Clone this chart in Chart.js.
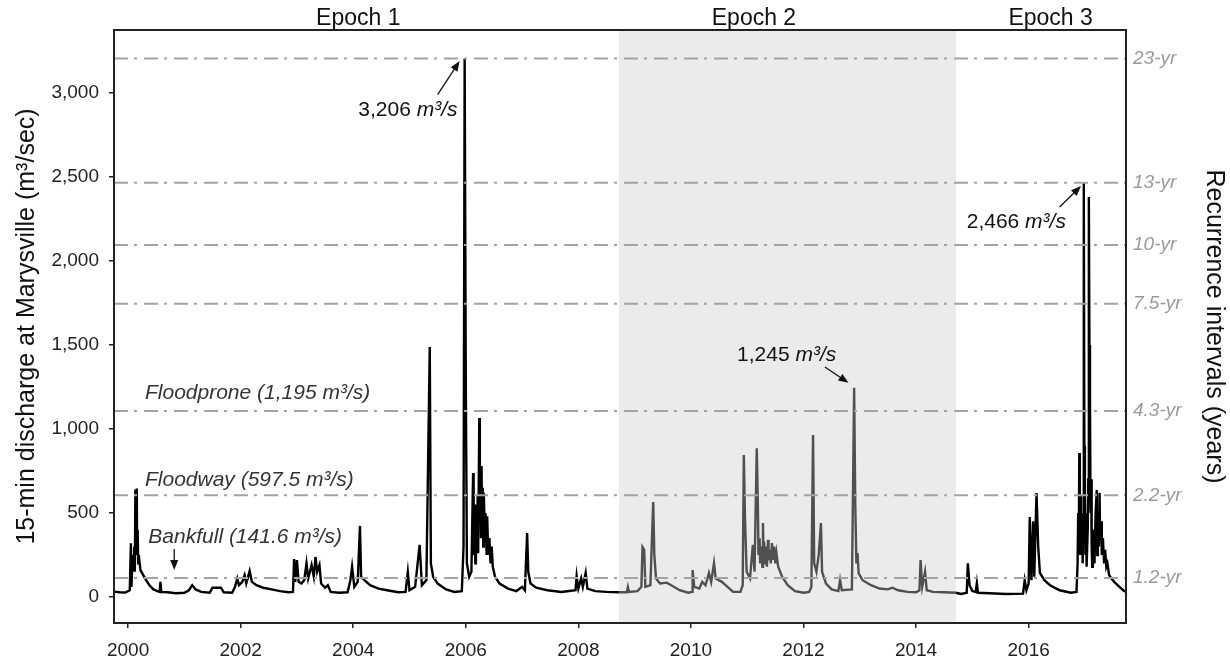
<!DOCTYPE html>
<html>
<head>
<meta charset="utf-8">
<script src="https://cdn.jsdelivr.net/npm/chart.js@4.4.1/dist/chart.umd.min.js"></script>
<style>
  html, body { margin: 0; padding: 0; background: #fff; }
  #wrap { width: 1230px; height: 661px; position: relative; }
</style>
</head>
<body>
<div id="wrap"><canvas id="flow"></canvas></div>
<script>
// 15-min discharge (decimal year, m3/s), one pair of arrays per epoch
const epoch1Years = [
  1999.75, 1999.85, 1999.95, 2000.03, 2000.05, 2000.06, 2000.08, 2000.1, 2000.11, 2000.12,
  2000.13, 2000.14, 2000.155, 2000.16, 2000.17, 2000.18, 2000.19, 2000.22, 2000.27, 2000.32,
  2000.38, 2000.45, 2000.52, 2000.56, 2000.575, 2000.59, 2000.7, 2000.85, 2001.0, 2001.08,
  2001.14, 2001.2, 2001.3, 2001.45, 2001.5, 2001.65, 2001.7, 2001.85, 2001.9, 2001.94,
  2001.97, 2002.03, 2002.07, 2002.1, 2002.16, 2002.2, 2002.28, 2002.4, 2002.55, 2002.7,
  2002.85, 2002.93, 2002.95, 2002.97, 2003.0, 2003.03, 2003.08, 2003.13, 2003.17, 2003.2,
  2003.26, 2003.3, 2003.33, 2003.36, 2003.4, 2003.43, 2003.5, 2003.55, 2003.6, 2003.75,
  2003.9, 2003.95, 2003.98, 2004.02, 2004.08, 2004.12, 2004.14, 2004.2, 2004.3, 2004.45,
  2004.6, 2004.8, 2004.93, 2004.97, 2005.0, 2005.1, 2005.18, 2005.22, 2005.3, 2005.36,
  2005.38, 2005.42, 2005.5, 2005.65, 2005.8, 2005.93, 2005.96, 2005.98, 2006.0, 2006.02,
  2006.06, 2006.1, 2006.13, 2006.14, 2006.16, 2006.17, 2006.18, 2006.2, 2006.21, 2006.22,
  2006.24, 2006.25, 2006.26, 2006.27, 2006.28, 2006.29, 2006.3, 2006.31, 2006.32, 2006.34,
  2006.35, 2006.37, 2006.38, 2006.4, 2006.42, 2006.44, 2006.46, 2006.48, 2006.52, 2006.6,
  2006.75, 2006.9, 2007.0, 2007.05, 2007.09, 2007.11, 2007.15, 2007.25, 2007.45, 2007.7,
  2007.95, 2007.97, 2008.0, 2008.05, 2008.08, 2008.13, 2008.16, 2008.3, 2008.5, 2008.72
];
const epoch1Flow = [
  32, 28, 26, 40, 320, 60, 250, 150, 300, 150,
  640, 250, 645, 300, 400, 200, 250, 160, 130, 100,
  70, 45, 35, 30, 90, 30, 28, 22, 25, 40,
  70, 45, 30, 25, 55, 55, 28, 25, 60, 110,
  70, 90, 130, 80, 155, 90, 70, 55, 45, 35,
  28, 30, 226, 90, 220, 90, 80, 100, 200, 110,
  190, 120, 238, 150, 190, 80, 55, 70, 30, 25,
  28, 100, 180, 60, 90, 423, 120, 100, 70, 50,
  40, 28, 30, 150, 40, 60, 310, 70, 100, 1488,
  200, 120, 80, 45, 30, 35, 300, 3206, 1300, 200,
  120, 150, 738, 250, 400, 200, 550, 300, 600, 260,
  1065, 500, 700, 350, 780, 400, 650, 300, 620, 350,
  500, 250, 480, 250, 350, 200, 300, 180, 120, 80,
  50, 35, 60, 40, 381, 150, 80, 55, 40, 30,
  40, 125, 50, 110, 60, 143, 50, 35, 30, 28
];
const epoch2Years = [
  2008.72, 2008.86, 2008.88, 2008.9, 2009.05, 2009.12, 2009.14, 2009.17, 2009.19, 2009.28,
  2009.33, 2009.35, 2009.38, 2009.45, 2009.57, 2009.65, 2009.8, 2009.95, 2010.02, 2010.03,
  2010.06, 2010.15, 2010.2, 2010.26, 2010.32, 2010.36, 2010.41, 2010.44, 2010.55, 2010.65,
  2010.75, 2010.88, 2010.92, 2010.94, 2010.96, 2010.99, 2011.05, 2011.1, 2011.13, 2011.17,
  2011.19, 2011.2, 2011.22, 2011.23, 2011.25, 2011.27, 2011.28, 2011.29, 2011.3, 2011.32,
  2011.33, 2011.35, 2011.37, 2011.38, 2011.4, 2011.42, 2011.44, 2011.46, 2011.48, 2011.5,
  2011.52, 2011.55, 2011.62, 2011.72, 2011.85, 2012.0, 2012.1, 2012.14, 2012.17, 2012.19,
  2012.23, 2012.27, 2012.31, 2012.33, 2012.4, 2012.5, 2012.62, 2012.65, 2012.68, 2012.86,
  2012.9, 2012.92, 2012.94, 2012.96, 2012.98, 2013.05, 2013.2, 2013.35, 2013.5, 2013.58,
  2013.68, 2013.85, 2014.0, 2014.06, 2014.08, 2014.11, 2014.16, 2014.19, 2014.3, 2014.5,
  2014.71
];
const epoch2Flow = [
  28, 28, 60, 30, 35, 60, 297, 280, 60, 70,
  565, 250, 110, 80, 85, 70, 40, 25, 30, 160,
  60, 50, 90, 70, 143, 90, 202, 110, 90, 60,
  30, 30, 70, 845, 476, 150, 110, 310, 150, 885,
  536, 250, 350, 200, 300, 180, 440, 250, 330, 200,
  300, 180, 340, 220, 280, 200, 321, 220, 300, 200,
  260, 180, 120, 70, 35, 25, 30, 60, 964, 200,
  150, 250, 440, 150, 80, 45, 35, 100, 40, 45,
  1245, 548, 200, 262, 140, 100, 70, 50, 45, 55,
  40, 30, 28, 40, 220, 60, 150, 40, 30, 28,
  25
];
const epoch3Years = [
  2014.71, 2014.8, 2014.9, 2014.92, 2014.95, 2015.0, 2015.06, 2015.08, 2015.1, 2015.3,
  2015.6, 2015.9, 2015.93, 2015.96, 2016.0, 2016.02, 2016.05, 2016.08, 2016.1, 2016.14,
  2016.17, 2016.2, 2016.28, 2016.38, 2016.55, 2016.75, 2016.85, 2016.87, 2016.88, 2016.89,
  2016.9, 2016.91, 2016.92, 2016.93, 2016.95, 2016.96, 2016.97, 2016.98, 2016.99, 2017.0,
  2017.01, 2017.02, 2017.03, 2017.05, 2017.06, 2017.07, 2017.08, 2017.09, 2017.1, 2017.11,
  2017.12, 2017.13, 2017.14, 2017.16, 2017.17, 2017.19, 2017.21, 2017.22, 2017.23, 2017.25,
  2017.26, 2017.27, 2017.29, 2017.3, 2017.32, 2017.34, 2017.36, 2017.38, 2017.4, 2017.43,
  2017.47, 2017.52, 2017.6, 2017.68, 2017.73
];
const epoch3Flow = [
  25, 18, 25, 200, 70, 35, 30, 83, 25, 22,
  18, 20, 100, 40, 80, 476, 100, 450, 120, 619,
  300, 143, 100, 70, 40, 25, 30, 200, 500, 250,
  857, 350, 600, 250, 500, 200, 400, 2466, 900, 600,
  250, 500, 180, 400, 700, 2381, 1500, 1172, 500, 700,
  300, 180, 400, 350, 200, 500, 637, 250, 450, 300,
  620, 350, 450, 250, 350, 200, 280, 180, 200, 130,
  110, 90, 65, 40, 30
];

const recurrenceValues = [3206, 2466, 2095, 1745, 1107, 605, 113];
const recurrenceLabels = ['23-yr', '13-yr', '10-yr', '7.5-yr', '4.3-yr', '2.2-yr', '1.2-yr'];
const epochBounds = [1999.75, 2008.72, 2014.71, 2017.73];
const epochNames = ['Epoch 1', 'Epoch 2', 'Epoch 3'];
const epochLabelYears = [2004.09, 2011.12, 2016.39];
const yearTicks = [2000, 2002, 2004, 2006, 2008, 2010, 2012, 2014, 2016];
const dischargeTicks = [0, 500, 1000, 1500, 2000, 2500, 3000];

const FONT = '"Liberation Sans", Arial, sans-serif';
const GREY_REF = '#a3a3a3';

const toPoints = (xs, ys) => xs.map((x, i) => ({ x: x, y: ys[i] }));

const refSets = recurrenceValues.map(v => ({
  data: [{ x: epochBounds[0], y: v }, { x: epochBounds[3], y: v }],
  borderColor: GREY_REF,
  borderWidth: 2,
  borderDash: [14, 6, 3, 7],
  pointRadius: 0
}));

const flowSet = (xs, ys, col) => ({
  data: toPoints(xs, ys),
  borderColor: col,
  borderWidth: 2.4,
  pointRadius: 0,
  tension: 0
});

function arrow(ctx, x1, y1, x2, y2) {
  const ang = Math.atan2(y2 - y1, x2 - x1);
  ctx.beginPath();
  ctx.moveTo(x1, y1);
  ctx.lineTo(x2 - 6 * Math.cos(ang), y2 - 6 * Math.sin(ang));
  ctx.stroke();
  ctx.beginPath();
  ctx.moveTo(x2, y2);
  ctx.lineTo(x2 - 10 * Math.cos(ang) + 4 * Math.sin(ang), y2 - 10 * Math.sin(ang) - 4 * Math.cos(ang));
  ctx.lineTo(x2 - 10 * Math.cos(ang) - 4 * Math.sin(ang), y2 - 10 * Math.sin(ang) + 4 * Math.cos(ang));
  ctx.closePath();
  ctx.fill();
}

// number upright, unit italic
function peakLabel(ctx, x, y, num) {
  ctx.font = '21px ' + FONT;
  ctx.fillText(num + ' ', x, y);
  const w = ctx.measureText(num + ' ').width;
  ctx.font = 'italic 21px ' + FONT;
  ctx.fillText('m³/s', x + w, y);
}

const overlay = {
  id: 'overlay',
  beforeDatasetsDraw(chart) {
    const { ctx, chartArea: a, scales: { x } } = chart;
    const x0 = x.getPixelForValue(epochBounds[1]);
    const x1 = x.getPixelForValue(epochBounds[2]);
    ctx.save();
    ctx.fillStyle = '#ebebeb';
    ctx.fillRect(x0, a.top, x1 - x0, a.bottom - a.top);
    ctx.restore();
  },
  afterDatasetsDraw(chart) {
    const { ctx, chartArea: a, scales: { x, y } } = chart;
    ctx.save();
    ctx.strokeStyle = '#222';
    ctx.lineWidth = 2;
    ctx.strokeRect(a.left, a.top, a.right - a.left, a.bottom - a.top);

    ctx.fillStyle = '#111';
    ctx.textBaseline = 'middle';
    ctx.textAlign = 'center';
    ctx.font = '23px ' + FONT;
    epochNames.forEach((n, i) => ctx.fillText(n, x.getPixelForValue(epochLabelYears[i]), a.top - 11));

    ctx.textAlign = 'left';
    peakLabel(ctx, x.getPixelForValue(2004.09), y.getPixelForValue(2899), '3,206');
    peakLabel(ctx, x.getPixelForValue(2014.9), y.getPixelForValue(2232), '2,466');
    peakLabel(ctx, x.getPixelForValue(2010.82), y.getPixelForValue(1440), '1,245');

    ctx.font = 'italic 21px ' + FONT;
    ctx.fillStyle = '#333';
    ctx.fillText('Floodprone (1,195 m³/s)', x.getPixelForValue(2000.3), y.getPixelForValue(1214));
    ctx.fillText('Floodway (597.5 m³/s)', x.getPixelForValue(2000.3), y.getPixelForValue(696));
    ctx.fillText('Bankfull (141.6 m³/s)', x.getPixelForValue(2000.36), y.getPixelForValue(357));

    ctx.strokeStyle = '#111';
    ctx.fillStyle = '#111';
    ctx.lineWidth = 1.3;
    arrow(ctx, x.getPixelForValue(2005.5), y.getPixelForValue(2990), x.getPixelForValue(2005.89), y.getPixelForValue(3190));
    arrow(ctx, x.getPixelForValue(2016.55), y.getPixelForValue(2321), x.getPixelForValue(2016.93), y.getPixelForValue(2446));
    arrow(ctx, x.getPixelForValue(2012.38), y.getPixelForValue(1369), x.getPixelForValue(2012.8), y.getPixelForValue(1275));
    arrow(ctx, x.getPixelForValue(2000.82), y.getPixelForValue(285), x.getPixelForValue(2000.82), y.getPixelForValue(160));
    ctx.restore();
  }
};

new Chart(document.getElementById('flow'), {
  type: 'line',
  data: {
    datasets: [
      ...refSets,
      flowSet(epoch1Years, epoch1Flow, '#000'),
      flowSet(epoch2Years, epoch2Flow, '#505050'),
      flowSet(epoch3Years, epoch3Flow, '#000')
    ]
  },
  options: {
    responsive: true,
    maintainAspectRatio: false,
    animation: false,
    layout: { padding: { top: 30, left: 0, right: 0, bottom: 0 } },
    plugins: { legend: { display: false }, tooltip: { enabled: false } },
    scales: {
      x: {
        type: 'linear',
        min: epochBounds[0],
        max: epochBounds[3],
        afterBuildTicks: s => { s.ticks = yearTicks.map(v => ({ value: v })); },
        afterFit: s => { s.height = 38; },
        grid: { drawOnChartArea: false, drawTicks: true, tickLength: 5, color: '#222', lineWidth: 1.5 },
        border: { display: false },
        ticks: {
          padding: 11,
          maxRotation: 0,
          color: '#222',
          font: { family: FONT, size: 19 },
          callback: v => String(v)
        }
      },
      y: {
        position: 'left',
        min: -155,
        max: 3375,
        afterBuildTicks: s => { s.ticks = dischargeTicks.map(v => ({ value: v })); },
        afterFit: s => { s.width = 114; },
        grid: { drawOnChartArea: false, drawTicks: true, tickLength: 5, color: '#222', lineWidth: 1.5 },
        border: { display: false },
        ticks: {
          padding: 10,
          color: '#222',
          font: { family: FONT, size: 19 },
          callback: v => v.toLocaleString('en-US')
        },
        title: {
          display: true,
          text: '15-min discharge at Marysville (m³/sec)',
          color: '#111',
          font: { family: FONT, size: 25 },
          padding: { top: 12, bottom: 0 }
        }
      },
      y2: {
        position: 'right',
        min: -155,
        max: 3375,
        afterBuildTicks: s => { s.ticks = recurrenceValues.map(v => ({ value: v })); },
        afterFit: s => { s.width = 104; },
        grid: { display: false, drawTicks: false },
        border: { display: false },
        ticks: {
          padding: 7,
          color: '#9a9a9a',
          font: { family: FONT, size: 19, style: 'italic' },
          callback: (v, i) => recurrenceLabels[i]
        },
        title: {
          display: true,
          text: 'Recurrence intervals (years)',
          color: '#111',
          font: { family: FONT, size: 25 },
          padding: { top: 1, bottom: 0 }
        }
      }
    }
  },
  plugins: [overlay]
});
</script>
</body>
</html>
